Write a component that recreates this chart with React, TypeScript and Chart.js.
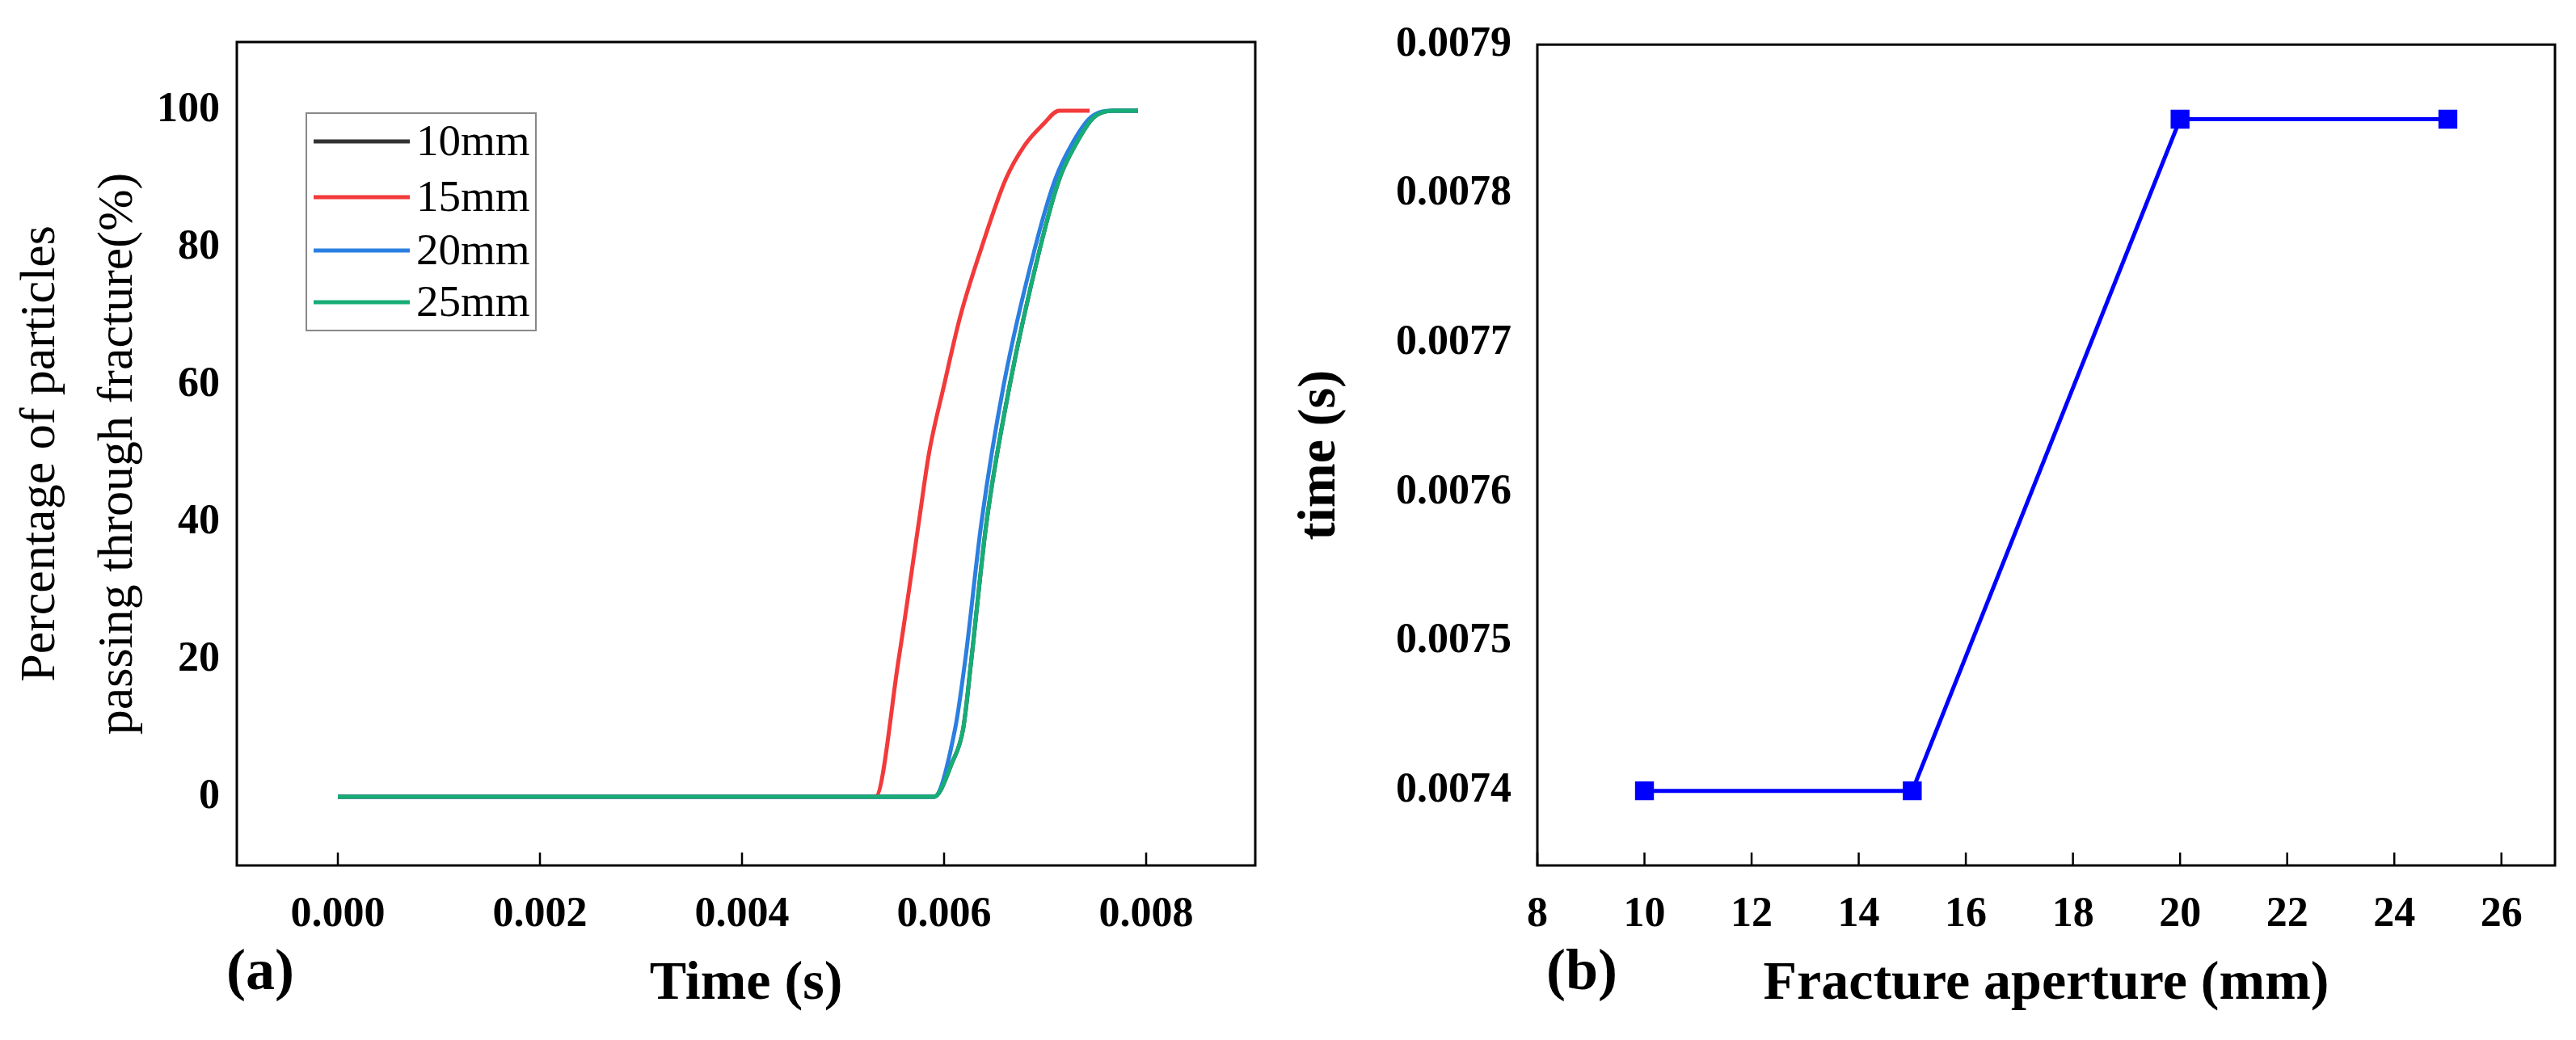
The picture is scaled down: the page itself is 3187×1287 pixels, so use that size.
import React, { useEffect, useRef } from "react";
import { Chart, registerables } from "chart.js";
Chart.register(...registerables);

const FONT = "'Liberation Serif', 'Times New Roman', serif";

// Panel (a): time (s) vs percentage (%)
const t15 = [0, 0.00532, 0.00555, 0.00575, 0.00585, 0.0060, 0.00616, 0.00637, 0.00661, 0.0068, 0.00698, 0.00714, 0.00744];
const p15 = [0, 0, 20, 40, 50, 60, 70, 80, 90, 95, 98, 100, 100];
const t20 = [0, 0.0059, 0.00611, 0.00621, 0.00637, 0.00659, 0.0069, 0.0071, 0.00726, 0.00745, 0.00767, 0.00792];
const p20 = [0, 0, 10, 20, 40, 60, 80, 90, 95, 99, 100, 100];
const t25 = [0, 0.0059, 0.00608, 0.00619, 0.00627, 0.00642, 0.00665, 0.00695, 0.00714, 0.0073, 0.00748, 0.00767, 0.00792];
const p25 = [0, 0, 5, 10, 20, 40, 60, 80, 90, 95, 99, 100, 100];
const t10 = t25;
const p10 = p25;
const seriesNames = ["10mm", "15mm", "20mm", "25mm"];
const seriesColors = ["#333333", "#f23a3a", "#2a7fe0", "#16ad76"];
const seriesOrder = [3, 2, 1, 0];

// Panel (b): aperture vs time
const apertures = [10, 15, 20, 25];
const times = [0.0074, 0.0074, 0.00785, 0.00785];

const zip = (xs: number[], ys: number[]) => xs.map((x, i) => ({ x, y: ys[i] }));

const framePlugin = (label: string, labelX: number, legend: boolean) => ({
  id: "frame",
  afterDraw(chart: any) {
    const { ctx, chartArea: a } = chart;
    const xs = chart.scales.x;
    ctx.save();
    ctx.strokeStyle = "#000";
    ctx.lineWidth = 3;
    ctx.strokeRect(a.left, a.top, a.right - a.left, a.bottom - a.top);
    ctx.lineWidth = 2.5;
    xs.ticks.forEach((tk: any) => {
      const px = xs.getPixelForValue(tk.value);
      ctx.beginPath();
      ctx.moveTo(px, a.bottom);
      ctx.lineTo(px, a.bottom - 16);
      ctx.stroke();
    });
    ctx.fillStyle = "#000";
    ctx.font = `bold 72px ${FONT}`;
    ctx.textAlign = "left";
    ctx.textBaseline = "middle";
    ctx.fillText(label, labelX, 1205);
    if (legend) {
      ctx.strokeStyle = "#888";
      ctx.lineWidth = 2;
      ctx.strokeRect(379, 140, 284, 269);
      const ys = [175, 244, 310, 374];
      ctx.font = `55px ${FONT}`;
      chart.data.datasets.forEach((ds: any, i: number) => {
        ctx.strokeStyle = ds.borderColor;
        ctx.lineWidth = 5;
        ctx.beginPath();
        ctx.moveTo(388, ys[i]);
        ctx.lineTo(507, ys[i]);
        ctx.stroke();
        ctx.fillStyle = "#000";
        ctx.fillText(ds.label, 515, ys[i] + 3);
      });
    }
    ctx.restore();
  },
});

export default function App() {
  const aRef = useRef<HTMLCanvasElement>(null);
  const bRef = useRef<HTMLCanvasElement>(null);
  useEffect(() => {
    const tickFont = { family: FONT, size: 52, weight: "bold" as const };
    const sets = [zip(t10, p10), zip(t15, p15), zip(t20, p20), zip(t25, p25)];
    const ca = new Chart(aRef.current!, {
      type: "line",
      data: {
        datasets: sets.map((d, i) => ({
          label: seriesNames[i],
          data: d,
          order: seriesOrder[i],
          borderColor: seriesColors[i],
          borderWidth: 5,
          pointRadius: 0,
          cubicInterpolationMode: "monotone" as const,
        })),
      },
      options: {
        animation: false,
        responsive: false,
        layout: { padding: { top: 52, right: 37, left: 0, bottom: 0 } },
        plugins: { legend: { display: false }, tooltip: { enabled: false } },
        scales: {
          x: {
            type: "linear",
            min: -0.001,
            max: 0.00908,
            afterBuildTicks: (s: any) => { s.ticks = [0, 0.002, 0.004, 0.006, 0.008].map((v) => ({ value: v })); },
            afterFit: (s: any) => { s.height = 216; },
            grid: { display: false },
            border: { display: false },
            ticks: { font: tickFont, color: "#000", padding: 22, callback: (v: any) => Number(v).toFixed(3) },
            title: { display: true, text: "Time (s)", color: "#000", font: { family: FONT, size: 68, weight: "bold" }, padding: { top: 0, bottom: 28 } },
          },
          y: {
            min: -10,
            max: 110,
            afterBuildTicks: (s: any) => { s.ticks = [0, 20, 40, 60, 80, 100].map((v) => ({ value: v })); },
            afterFit: (s: any) => { s.width = 293; },
            grid: { display: false },
            border: { display: false },
            ticks: { font: tickFont, color: "#000", padding: 13 },
            title: { display: true, text: ["Percentage of particles", "passing through fracture(%)"], color: "#000", font: { family: FONT, size: 62, lineHeight: 1.55 }, padding: { top: 3, bottom: 0 } },
          },
        },
      },
      plugins: [framePlugin("(a)", 280, true)],
    });
    const cb = new Chart(bRef.current!, {
      type: "line",
      data: {
        datasets: [{
          label: "time",
          data: zip(apertures, times),
          borderColor: "#0000ff",
          backgroundColor: "#0000ff",
          borderWidth: 5,
          pointStyle: "rect",
          pointRadius: 13,
        }],
      },
      options: {
        animation: false,
        responsive: false,
        layout: { padding: { top: 52, right: 26, left: 0, bottom: 0 } },
        plugins: { legend: { display: false }, tooltip: { enabled: false } },
        scales: {
          x: {
            type: "linear",
            min: 8,
            max: 27,
            afterBuildTicks: (s: any) => { s.ticks = [8, 10, 12, 14, 16, 18, 20, 22, 24, 26].map((v) => ({ value: v })); },
            afterFit: (s: any) => { s.height = 216; },
            grid: { display: false },
            border: { display: false },
            ticks: { font: tickFont, color: "#000", padding: 22 },
            title: { display: true, text: "Fracture aperture (mm)", color: "#000", font: { family: FONT, size: 68, weight: "bold" }, padding: { top: 0, bottom: 28 } },
          },
          y: {
            min: 0.00735,
            max: 0.0079,
            afterBuildTicks: (s: any) => { s.ticks = [0.0074, 0.0075, 0.0076, 0.0077, 0.0078, 0.0079].map((v) => ({ value: v })); },
            afterFit: (s: any) => { s.width = 312; },
            grid: { display: false },
            border: { display: false },
            ticks: { font: tickFont, color: "#000", padding: 24, callback: (v: any) => Number(v).toFixed(4) },
            title: { display: true, text: "time (s)", color: "#000", font: { family: FONT, size: 66, weight: "bold" }, padding: { top: 4, bottom: 0 } },
          },
        },
      },
      plugins: [framePlugin("(b)", 323, false)],
    });
    return () => { ca.destroy(); cb.destroy(); };
  }, []);
  return (
    <div style={{ position: "fixed", left: 0, top: 0, width: 3187, height: 1287, background: "#fff" }}>
      <canvas ref={aRef} width={1590} height={1287} style={{ position: "absolute", left: 0, top: 0 }} />
      <canvas ref={bRef} width={1597} height={1287} style={{ position: "absolute", left: 1590, top: 0 }} />
    </div>
  );
}
